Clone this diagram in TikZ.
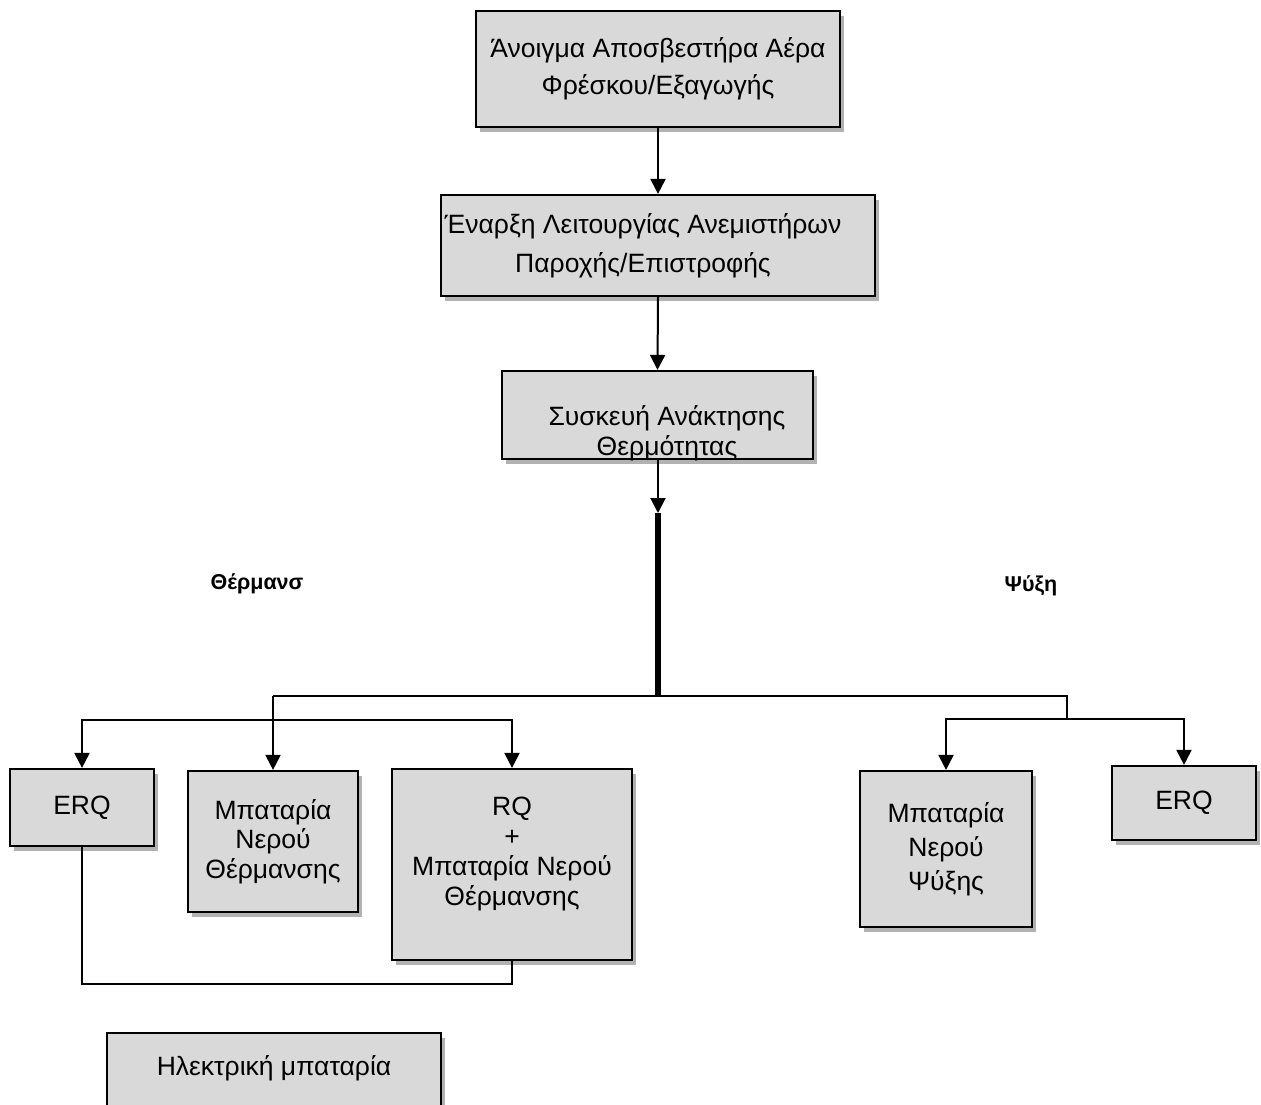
\documentclass[tikz,border=0pt]{standalone}
\usepackage{fontspec}
\setmainfont{Liberation Sans}
\usetikzlibrary{arrows.meta,shadows}
\definecolor{boxgray}{HTML}{D9D9D9}
\tikzset{
  boxst/.style={draw=black, line width=2.2pt, fill=boxgray,
    drop shadow={shadow xshift=4pt, shadow yshift=-5pt, opacity=0.3, fill=black},
    inner sep=0pt, align=center},
  txt/.style={inner sep=0pt, align=center},
  conn/.style={line width=2pt},
  arr/.style={line width=2pt, -{Triangle[width=15pt,length=15pt]}},
  thickconn/.style={line width=6pt},
  lbl/.style={inner sep=0pt, font=\fontsize{21.5}{26}\selectfont\bfseries}
}
\begin{document}
\begin{tikzpicture}[x=1pt,y=-1pt]
\useasboundingbox (0,0) rectangle (1261,1104);
% boxes
\node[boxst, minimum width=364pt, minimum height=116pt, font=\fontsize{26.5}{37}\selectfont] (top) at (658,69)
  {Άνοιγμα Αποσβεστήρα Αέρα\\Φρέσκου/Εξαγωγής};
\node[boxst, minimum width=434pt, minimum height=101pt] (fans) at (658,245.5) {};
\node[txt, font=\fontsize{26.5}{39}\selectfont] (fanst) at (643,245.5)
  {Έναρξη Λειτουργίας Ανεμιστήρων\\Παροχής/Επιστροφής};
\node[boxst, minimum width=311pt, minimum height=88pt] (hrec) at (657.5,415) {};
\node[txt, font=\fontsize{26.5}{30}\selectfont] (hrect) at (667,433)
  {Συσκευή Ανάκτησης\\Θερμότητας};
\node[boxst, minimum width=144pt, minimum height=77pt, font=\fontsize{26.5}{30}\selectfont] (erqa) at (82,807.5) {ERQ};
\node[boxst, minimum width=170pt, minimum height=141pt, font=\fontsize{26.5}{29.5}\selectfont] (mpat) at (273,841.5)
  {Μπαταρία\\Νερού\\Θέρμανσης};
\node[boxst, minimum width=240pt, minimum height=191pt] (rq) at (512,864.5) {};
\node[txt, font=\fontsize{26.5}{30}\selectfont] (rqt) at (512,854)
  {RQ\\+\\Μπαταρία Νερού\\Θέρμανσης};
\node[boxst, minimum width=172pt, minimum height=156pt, font=\fontsize{26.5}{34}\selectfont] (psy) at (946,849)
  {Μπαταρία\\Νερού\\Ψύξης};
\node[boxst, minimum width=144pt, minimum height=74pt, font=\fontsize{26.5}{30}\selectfont] (erqb) at (1184,803) {ERQ};
\node[boxst, minimum width=334pt, minimum height=77pt] (elec) at (274,1071.5) {};
\node[txt, font=\fontsize{26.5}{30}\selectfont] (elect) at (274,1068) {Ηλεκτρική μπαταρία};
% labels
\node[lbl] (heat) at (257,584) {Θέρμανσ};
\node[lbl] (cool) at (1031,586) {Ψύξη};
% connectors
\coordinate (hub) at (658,513);
\coordinate (junc) at (658,696);
\coordinate (jL) at (273,696);
\coordinate (jR) at (1067,696);
\coordinate (jR2) at (1067,719);
\coordinate (h2) at (273,720);
\coordinate (bot) at (300,984);
\draw[arr] (top.south) -- (fans.north);
\draw[arr] (fans.south) -- (hrec.north);
\draw[arr] (hrec.south -| hub) -- (hub);
\draw[thickconn] (hub) -- (junc);
\draw[conn] (jL) -- (jR) -- (jR2);
\draw[arr] (jL) -- (mpat.north);
\draw[arr] (h2) -| (erqa.north);
\draw[arr] (h2) -| (rq.north);
\draw[arr] (jR2) -| (psy.north);
\draw[arr] (jR2) -| (erqb.north);
\draw[conn] (erqa.south) |- (bot) -| (rq.south);
\end{tikzpicture}
\end{document}
